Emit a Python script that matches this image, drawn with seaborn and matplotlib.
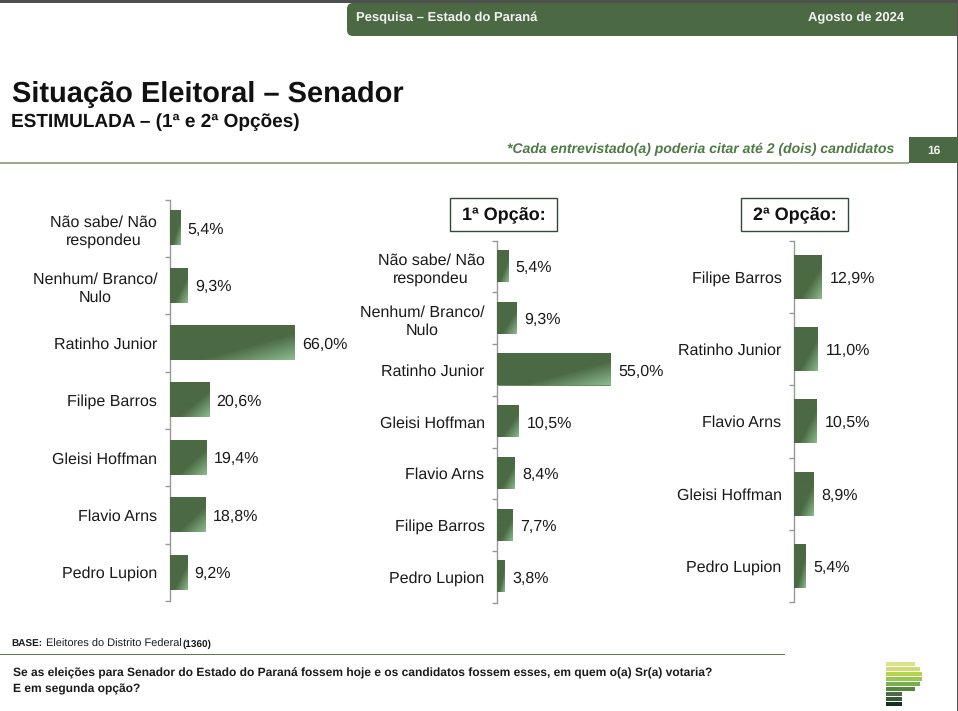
import numpy as np
import pandas as pd
import matplotlib
matplotlib.use("Agg")
import matplotlib.pyplot as plt
from matplotlib.colors import LinearSegmentedColormap
from matplotlib.patches import FancyBboxPatch, Rectangle
import seaborn as sns

cats_total = ["Não sabe/ Não\nrespondeu", "Nenhum/ Branco/\nNulo", "Ratinho Junior", "Filipe Barros",
              "Gleisi Hoffman", "Flavio Arns", "Pedro Lupion"]
vals_total = [5.4, 9.3, 66.0, 20.6, 19.4, 18.8, 9.2]
cats_first = ["Não sabe/ Não\nrespondeu", "Nenhum/ Branco/\nNulo", "Ratinho Junior", "Gleisi Hoffman",
              "Flavio Arns", "Filipe Barros", "Pedro Lupion"]
vals_first = [5.4, 9.3, 55.0, 10.5, 8.4, 7.7, 3.8]
cats_second = ["Filipe Barros", "Ratinho Junior", "Flavio Arns", "Gleisi Hoffman", "Pedro Lupion"]
vals_second = [12.9, 11.0, 10.5, 8.9, 5.4]

W, H = 958, 711
sns.set_theme(style="white")
plt.rcParams["font.family"] = ["Liberation Sans", "DejaVu Sans"]
plt.rcParams["text.hinting"] = "no_hinting"
plt.rcParams["text.hinting_factor"] = 1
fig = plt.figure(figsize=(W / 100, H / 100), dpi=100, facecolor="white")

GREEN = "#4b6a43"
TXT = "#1a1a1a"
AXC = "#999999"
cmap = LinearSegmentedColormap.from_list("g", [GREEN, "#8dbb8e"])


def panel(cats, vals, x0, y0, y1, pxu):
    xmax = max(vals)
    ax = fig.add_axes([x0 / W, 1 - y1 / H, xmax * pxu / W, (y1 - y0) / H])
    df = pd.DataFrame({"c": cats, "v": vals})
    sns.barplot(data=df, y="c", x="v", color=GREEN, width=0.6, saturation=1, ax=ax, orient="h")
    ax.patch.set_alpha(0)
    ax.set_xlabel(""); ax.set_ylabel("")
    for p in ax.patches:
        x, y, w, h = p.get_x(), p.get_y(), p.get_width(), p.get_height()
        u, v = np.meshgrid(np.linspace(0, 1, 80), np.linspace(0, 1, 40))
        t = np.clip(((u + v) / 2 - 0.62) / 0.38, 0, 1)
        ax.imshow(t, cmap=cmap, vmin=0, vmax=1, extent=(x, x + w, y + h, y),
                  aspect="auto", origin="upper", zorder=3)
    ax.set_xlim(0, xmax)
    ax.set_ylim(len(cats) - 0.5, -0.5)
    labs = ax.bar_label(ax.containers[0], labels=[f"{v:.1f}%".replace(".", ",") for v in vals],
                        padding=5.2, fontsize=11.7, color=TXT, zorder=5)
    for l in labs:
        l.set_va("center_baseline")
    for s in ["top", "right", "bottom"]:
        ax.spines[s].set_visible(False)
    ax.spines["left"].set_color(AXC)
    ax.spines["left"].set_linewidth(1)
    ax.set_xticks([])
    ax.set_yticks(np.arange(-0.5, len(cats), 1), minor=True)
    ax.tick_params(axis="y", which="minor", length=3.6, width=1, color=AXC, left=True)
    ax.tick_params(axis="y", which="major", length=0, pad=9.2, labelsize=11.5, labelcolor=TXT)
    for l in ax.get_yticklabels():
        l.set_multialignment("center")
        l.set_linespacing(1.25)
    return ax


panel(cats_total, vals_total, 170, 199.5, 601, 125 / 66)
panel(cats_first, vals_first, 497.3, 240.7, 602.7, 114 / 55)
panel(cats_second, vals_second, 794.3, 240.7, 602.3, 28 / 12.9)

# page furniture in pixel coordinates
pg = fig.add_axes([0, 0, 1, 1], zorder=10)
pg.set_xlim(0, W); pg.set_ylim(H, 0); pg.axis("off"); pg.patch.set_alpha(0)
pg.add_patch(Rectangle((0, 0), W, 3, color="#4d504d", lw=0))
pg.add_patch(Rectangle((356, 3), W - 356, 33, color=GREEN, lw=0))
pg.add_patch(FancyBboxPatch((353, 9), 20, 21, boxstyle="round,pad=6,rounding_size=6", color=GREEN, lw=0))
pg.add_patch(Rectangle((956.8, 0), 1.2, H, color="#555555", lw=0))
pg.text(356, 18, "Pesquisa – Estado do Paraná", color="#f2f2f2", fontsize=9.6, fontweight="bold", va="center")
pg.text(808, 18, "Agosto de 2024", color="#f2f2f2", fontsize=9.6, fontweight="bold", va="center")
pg.text(12, 94, "Situação Eleitoral – Senador", color="#111111", fontsize=21, fontweight="bold", va="center")
pg.text(11, 122, "ESTIMULADA – (1ª e 2ª Opções)", color="#111111", fontsize=13.4, fontweight="bold", va="center")
pg.text(894, 149.5, "*Cada entrevistado(a) poderia citar até 2 (dois) candidatos", color="#4f7a45",
        fontsize=10, fontweight="bold", style="italic", va="center", ha="right")
pg.add_patch(Rectangle((0, 162), 909, 1.6, color="#9aab8c", lw=0))
pg.add_patch(Rectangle((909, 137), 49, 26, color=GREEN, lw=0))
pg.text(934, 151, "16", color="#f2f2f2", fontsize=8.5, fontweight="bold", va="center", ha="center")
for x0, s in [(450, "1ª Opção:"), (741, "2ª Opção:")]:
    pg.add_patch(Rectangle((x0, 198), 107, 33, fc="white", ec="#2f4a3a", lw=1))
    pg.text(x0 + 53.5, 215.5, s, color="#111111", fontsize=13, fontweight="bold", ha="center", va="center")
pg.text(11, 647, "BASE:", color=TXT, fontsize=7.3, fontweight="bold", va="baseline")
pg.text(46, 647, "Eleitores do Distrito Federal", color=TXT, fontsize=7.6, va="baseline")
pg.text(183, 647, "(1360)", color=TXT, fontsize=7.4, fontweight="bold", va="baseline")
pg.add_patch(Rectangle((0, 654), 785, 1.2, color="#5d7a4f", lw=0))
pg.text(13, 673, "Se as eleições para Senador do Estado do Paraná fossem hoje e os candidatos fossem esses, em quem o(a) Sr(a) votaria?",
        color=TXT, fontsize=8.6, fontweight="bold", va="center")
pg.text(13, 689, "E em segunda opção?", color=TXT, fontsize=8.6, fontweight="bold", va="center")
# logo
logo_r = [915, 920, 922, 922, 920, 915, 902, 902, 902]
logo_c = ["#dbe08a", "#cfdc6f", "#b5d34f", "#96c84e", "#75b24b", "#55883f", "#4d6b42", "#335a32", "#10331f"]
for i, (r, c) in enumerate(zip(logo_r, logo_c)):
    pg.add_patch(Rectangle((886, 661.5 + i * 5.1), r - 886, 4.1, color=c, lw=0))

fig.savefig("out.png", dpi=100)
